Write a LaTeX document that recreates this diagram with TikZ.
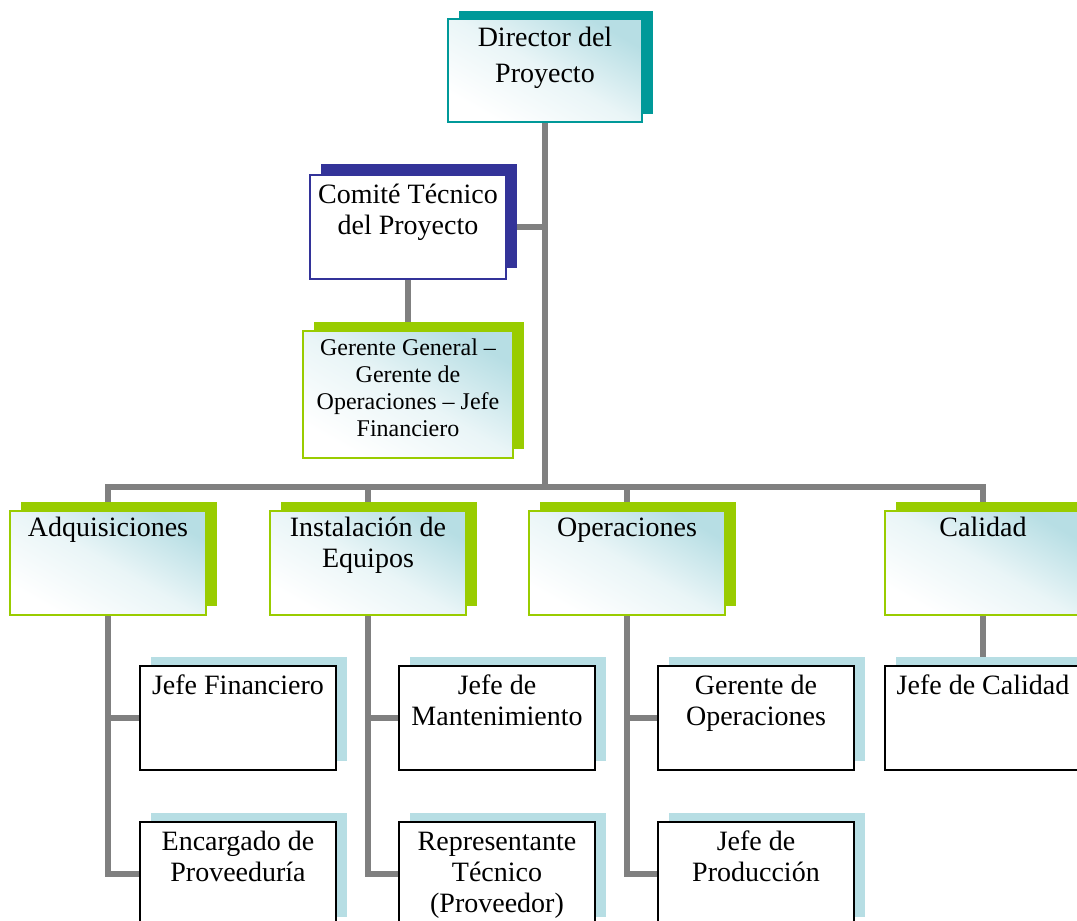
\documentclass[tikz,border=0pt]{standalone}
\usepackage{fontspec}
\setmainfont{Liberation Serif}
\usetikzlibrary{shadows,backgrounds}
\definecolor{tealc}{RGB}{0,153,153}
\definecolor{navyc}{RGB}{51,51,153}
\definecolor{greenc}{RGB}{153,204,0}
\definecolor{paleblue}{RGB}{183,222,228}
\definecolor{linegray}{RGB}{128,128,128}
\begin{document}
\begin{tikzpicture}[x=1pt,y=-1pt,
  every node/.style={inner sep=0pt, outer sep=0pt},
  box/.style={anchor=north west, minimum width=196pt, minimum height=104pt, line width=1.8pt},
  grad/.style={top color=paleblue, bottom color=white, middle color=paleblue!30!white, shading angle=-30},
  tealbox/.style={box, draw=tealc, grad, general shadow={fill=tealc, shadow xshift=11pt, shadow yshift=8pt}},
  navybox/.style={box, draw=navyc, fill=white, general shadow={fill=navyc, shadow xshift=11pt, shadow yshift=11pt}},
  greenbox/.style={box, draw=greenc, grad, general shadow={fill=greenc, shadow xshift=11pt, shadow yshift=9pt}},
  childbox/.style={box, draw=black, fill=white, general shadow={fill=paleblue, shadow xshift=11pt, shadow yshift=9pt}},
  lbl/.style={anchor=north, align=center, font=\fontsize{28}{31}\selectfont},
  smalllbl/.style={lbl, font=\fontsize{24}{27}\selectfont},
  link/.style={draw=linegray, line width=5.5pt}
]
\useasboundingbox (0,0) rectangle (1077,921);

% top
\node[tealbox, minimum width=194pt, minimum height=103pt] (dir) at (448,19) {};
\node[lbl, font=\fontsize{28}{36}\selectfont] (dirT) at ([yshift=-2.5pt]dir.north) {\strut Director del\\Proyecto};

\node[navybox] (com) at (310,175) {};
\node[lbl] (comT) at ([yshift=-6.3pt]com.north) {\strut Comité Técnico\\del Proyecto};

\node[greenbox, minimum width=210pt, minimum height=127pt] (ger) at (303,331) {};
\node[smalllbl] (gerT) at ([yshift=-5.1pt]ger.north) {\strut Gerente General –\\Gerente de\\Operaciones – Jefe\\Financiero};

% second row
\node[greenbox] (adq) at (10,511) {};
\node[lbl] (adqT) at ([yshift=-3.8pt]adq.north) {\strut Adquisiciones};
\node[greenbox] (inst) at (270,511) {};
\node[lbl] (instT) at ([yshift=-3.8pt]inst.north) {\strut Instalación de\\Equipos};
\node[greenbox] (op) at (529,511) {};
\node[lbl] (opT) at ([yshift=-3.8pt]op.north) {\strut Operaciones};
\node[greenbox] (cal) at (885,511) {};
\node[lbl] (calT) at ([yshift=-3.8pt]cal.north) {\strut Calidad};

% children
\node[childbox] (jf) at (140,666) {};
\node[lbl] (jfT) at ([yshift=-6.3pt]jf.north) {\strut Jefe Financiero};
\node[childbox] (enc) at (140,822) {};
\node[lbl] (encT) at ([yshift=-6.3pt]enc.north) {\strut Encargado de\\Proveeduría};

\node[childbox] (jm) at (399,666) {};
\node[lbl] (jmT) at ([yshift=-6.3pt]jm.north) {\strut Jefe de\\Mantenimiento};
\node[childbox] (rt) at (399,822) {};
\node[lbl] (rtT) at ([yshift=-6.3pt]rt.north) {\strut Representante\\Técnico\\(Proveedor)};

\node[childbox] (go) at (658,666) {};
\node[lbl] (goT) at ([yshift=-6.3pt]go.north) {\strut Gerente de\\Operaciones};
\node[childbox] (jp) at (658,822) {};
\node[lbl] (jpT) at ([yshift=-6.3pt]jp.north) {\strut Jefe de\\Producción};

\node[childbox] (jc) at (885,666) {};
\node[lbl] (jcT) at ([yshift=-6.3pt]jc.north) {\strut Jefe de Calidad};

\coordinate (bus) at (545,487);

\begin{pgfonlayer}{background}
\draw[link] (dir.south) -- (bus);
\draw[link] (adq.north) |- (bus) -| (cal.north);
\draw[link] (inst.north) -- (inst.north |- bus);
\draw[link] (op.north) -- (op.north |- bus);
\draw[link] (com.east) -- (com.east -| dir.south);
\draw[link] (com.south) -- (ger.north);
\draw[link] (adq.south) |- (jf.west);
\draw[link] (adq.south) |- (enc.west);
\draw[link] (inst.south) |- (jm.west);
\draw[link] (inst.south) |- (rt.west);
\draw[link] (op.south) |- (go.west);
\draw[link] (op.south) |- (jp.west);
\draw[link] (cal.south) -- (jc.north);
\end{pgfonlayer}
\end{tikzpicture}
\end{document}
